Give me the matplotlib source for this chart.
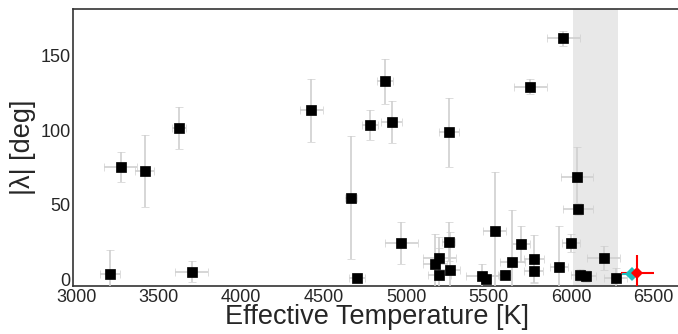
import matplotlib.pyplot as plt

plt.rcParams['font.family'] = ['Liberation Sans', 'DejaVu Sans']

# sample stars: Teff [K], err, |lambda| [deg], err
teff = [3207, 3269, 3415, 3624, 3700, 4426, 4667, 4701, 4782, 4871,
        4912, 4971, 5262, 5175, 5201, 5201, 5258, 5268, 5460, 5485,
        5538, 5598, 5643, 5697, 5752, 5774, 5772, 5926, 5952, 5999,
        6035, 6041, 6052, 6092, 6199, 6270]
teff_err = [60, 100, 58, 43, 100, 70, 35, 50, 50, 50,
            65, 100, 60, 70, 100, 70, 40, 60, 100, 30,
            70, 40, 75, 55, 100, 60, 60, 55, 100, 55,
            95, 90, 55, 60, 100, 70]
lam = [3.8, 75.5, 72.4, 101.5, 5.3, 113.3, 54.7, 1.1, 103.6, 132.4,
       105.6, 24.7, 98.4, 10.4, 14.4, 3.3, 25.5, 6.7, 2.7, 0.7,
       32.7, 3.6, 11.8, 23.8, 128.9, 13.8, 5.8, 8.7, 161.3, 24.7,
       68.7, 47.3, 3.6, 2.5, 14.4, 1.1]
lam_err = [16, 10, 24, 14, 7, 21, 41, 2, 10, 15,
           14, 14, 23, 20, 14, 18, 13, 25, 8, 2,
           39, 3, 35, 12, 5, 16, 7, 27, 5, 6,
           20, 4, 4, 4, 8, 7]

# this work
new_teff, new_teff_err, new_lam, new_lam_err = 6402, 100, 4.9, 12
cyan_teff, cyan_teff_err, cyan_lam, cyan_lam_err = 6366, 60, 3.8, 1

shade = (6010, 6285)

fig = plt.figure(figsize=(6.78, 3.34), dpi=100)
ax = fig.add_axes([0.108, 0.144, 0.895, 0.828])

ax.axvspan(shade[0], shade[1], color='#e8e8e8', zorder=0, lw=0)

ax.errorbar(teff, lam, xerr=teff_err, yerr=lam_err, fmt='s', color='black',
            ms=6.5, mew=0.5, ecolor='#cfcfcf', elinewidth=1.2, capsize=3,
            capthick=1.2, zorder=3)
# red error bars under the cyan point, red marker on top
ax.errorbar(new_teff, new_lam, xerr=new_teff_err, yerr=new_lam_err, fmt='none',
            ecolor='red', elinewidth=1.5, zorder=4)
ax.errorbar(cyan_teff, cyan_lam, xerr=cyan_teff_err, yerr=cyan_lam_err, fmt='D',
            color='#1fbfbf', ms=7.5, mew=0, elinewidth=1.5, zorder=5)
ax.plot(new_teff, new_lam, 'D', color='red', ms=6, mew=0, zorder=6)

ax.set_xlim(2982, 6660)
ax.set_ylim(-4, 180.5)
ax.set_xticks([3000, 3500, 4000, 4500, 5000, 5500, 6000, 6500])
ax.set_yticks([0, 50, 100, 150])
ax.tick_params(length=0, labelsize=13, colors='#262626', pad=2)
for s in ax.spines.values():
    s.set_color('#333333')
    s.set_linewidth(1.2)

ax.set_xlabel('Effective Temperature [K]', fontsize=19.5, color='#262626', labelpad=-1)
ax.set_ylabel('|λ| [deg]', fontsize=19.5, color='#262626', labelpad=3)

plt.savefig('out.png', dpi=100)
